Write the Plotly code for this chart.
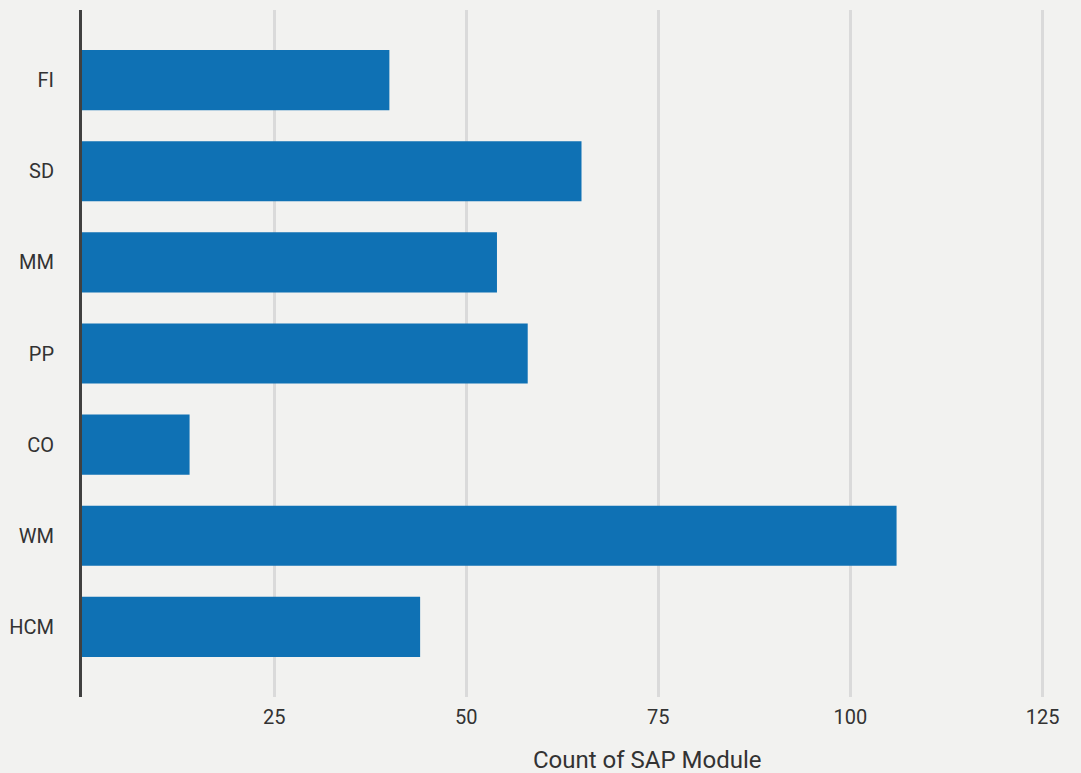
import plotly.graph_objects as go

modules = ["FI", "SD", "MM", "PP", "CO", "WM", "HCM"]
counts = [40, 65, 54, 58, 14, 106, 44]
tick_vals = [25, 50, 75, 100, 125]
tick_text = ["25", "50", "75", "100", "125"]
x_title = "Count of SAP Module"

BG = "#F2F2F0"
BAR = "#0F71B4"
FONT = "Roboto"

fig = go.Figure(
    go.Bar(
        x=counts,
        y=modules,
        orientation="h",
        marker=dict(color=BAR, line=dict(width=0)),
        width=0.66,
    )
)

fig.update_layout(
    width=1081,
    height=773,
    paper_bgcolor=BG,
    plot_bgcolor=BG,
    margin=dict(l=82, r=0, t=10, b=76),
    showlegend=False,
    font=dict(family=FONT, color="#333333", size=20),
    annotations=[
        dict(
            text=x_title,
            xref="paper",
            yref="paper",
            x=0.566,
            y=0,
            yshift=-63,
            xanchor="center",
            yanchor="middle",
            showarrow=False,
            font=dict(family=FONT, size=24, color="#333333"),
        )
    ],
)

fig.update_xaxes(
    range=[0, 130.0],
    tickmode="array",
    tickvals=tick_vals,
    ticktext=tick_text,
    showgrid=True,
    gridcolor="#DADADA",
    gridwidth=3,
    zeroline=False,
    showline=False,
    ticks="",
    ticklabelstandoff=6,
    tickfont=dict(family=FONT, size=20, color="#333333"),
)

fig.update_yaxes(
    categoryorder="array",
    categoryarray=modules,
    range=[6.77, -0.77],
    showgrid=False,
    zeroline=False,
    showline=True,
    linecolor="#404040",
    linewidth=3,
    ticks="",
    ticklabelstandoff=21,
    tickfont=dict(family=FONT, size=20, color="#333333"),
)

fig.write_html(
    "out.html",
    config={"displayModeBar": False},
    post_script="document.body.style.margin='0';document.body.style.overflow='hidden';",
)
